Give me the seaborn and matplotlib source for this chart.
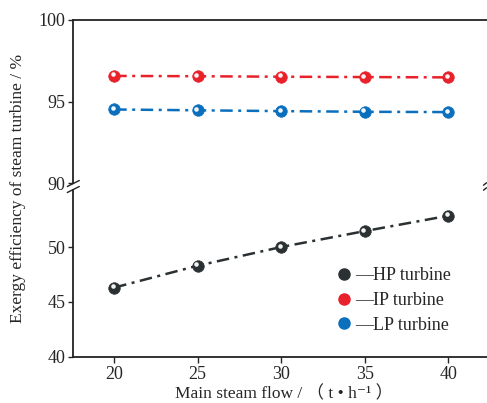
import numpy as np
import pandas as pd
import matplotlib
matplotlib.use("Agg")
import matplotlib.pyplot as plt
import matplotlib.transforms as mtransforms
from matplotlib.lines import Line2D
import seaborn as sns

flow = [20, 25, 30, 35, 40]
hp = [46.3, 48.3, 50.0, 51.45, 52.85]
ip = [96.57, 96.55, 96.52, 96.5, 96.48]
lp = [94.51, 94.46, 94.41, 94.37, 94.35]
series_names = ["HP turbine", "IP turbine", "LP turbine"]
colors = {"HP turbine": "#2b3133", "IP turbine": "#e8212b", "LP turbine": "#0a6fbd"}
top_ticks = [90, 95, 100]
bottom_ticks = [40, 45, 50]
x_ticks = [20, 25, 30, 35, 40]

sns.set_theme(style="ticks")
plt.rcParams["font.family"] = ["Liberation Serif", "Noto Sans CJK SC", "DejaVu Serif"]

df = pd.DataFrame({
    "flow": flow * 3,
    "eff": hp + ip + lp,
    "series": ["HP turbine"] * 5 + ["IP turbine"] * 5 + ["LP turbine"] * 5,
})

W, H = 487, 403
fig = plt.figure(figsize=(W / 100, H / 100), dpi=100)
left = 73.3 / W
right = 486.5 / W
ax_top = fig.add_axes([left, 1 - 183 / H, right - left, (183 - 20) / H])
ax_bot = fig.add_axes([left, 1 - 356.7 / H, right - left, (356.7 - 190) / H])

dash = (0, (5, 2.2, 1.2, 2.2))
for ax, names in [(ax_top, ["IP turbine", "LP turbine"]), (ax_bot, ["HP turbine"])]:
    for n in names:
        sub = df[df.series == n]
        sns.lineplot(data=sub, x="flow", y="eff", ax=ax, color=colors[n],
                     linewidth=1.8, linestyle=dash, marker="o", markersize=8.3,
                     markeredgecolor=colors[n], markeredgewidth=0.5, legend=False)
        # sphere highlight
        off = mtransforms.offset_copy(ax.transData, fig=fig, x=-1.1, y=1.1, units="points")
        ax.plot(sub.flow, sub.eff, linestyle="none", marker="o", markersize=2.3,
                color="white", alpha=0.9, transform=off)

for ax in (ax_top, ax_bot):
    ax.set_xlim(17.55, 42.3)
    ax.set_xlabel("")
    ax.set_ylabel("")
    ax.spines["right"].set_visible(False)
    ax.spines["left"].set_linewidth(1.3)
    ax.tick_params(axis="y", direction="out", length=3.5, width=1.0, labelsize=13, pad=2)
    for s in ax.spines.values():
        s.set_color("#222222")

ax_top.set_ylim(90, 100)
ax_top.set_yticks(top_ticks)
ax_top.spines["bottom"].set_visible(False)
ax_top.spines["top"].set_linewidth(1.3)
ax_top.tick_params(axis="x", bottom=False, labelbottom=False)

ax_bot.set_ylim(40, 55.2)
ax_bot.set_yticks(bottom_ticks)
ax_bot.spines["top"].set_visible(False)
ax_bot.spines["bottom"].set_linewidth(1.3)
ax_bot.set_xticks(x_ticks)
ax_bot.tick_params(axis="x", direction="out", length=4.5, width=1.0, labelsize=13, pad=2)

# break marks
kw = dict(color="#222222", linewidth=1.0, clip_on=False, transform=fig.transFigure)
for yy in (183.5, 189.5):
    fig.add_artist(Line2D([left - 6 / W, left + 6 / W], [1 - (yy + 3) / H, 1 - (yy - 3) / H], **kw))
for yy in (184, 189):
    fig.add_artist(Line2D([483.5 / W, 486.5 / W], [1 - (yy + 1.2) / H, 1 - (yy - 1.2) / H], **kw))

# legend
handles = [Line2D([], [], linestyle="none", marker="o", markersize=8,
                  color=colors[n], markeredgecolor=colors[n]) for n in series_names]
labels = ["\u2014" + n for n in series_names]
ax_bot.legend(handles, labels, loc="lower left", bbox_to_anchor=(0.62, 0.095),
              frameon=False, fontsize=13, handlelength=0.8, handletextpad=0.2,
              labelspacing=0.42, borderaxespad=0)

fig.text(18 / W, 1 - 188 / H, "Exergy efficiency of steam turbine / %", rotation=90,
         ha="center", va="center", fontsize=12.5)
fig.text(284 / W, 1 - 394 / H, "Main steam flow / \uff08 t \u2022 h\u207b\u00b9 \uff09",
         ha="center", va="center", fontsize=12.5)

fig.savefig("out.png", dpi=100)
